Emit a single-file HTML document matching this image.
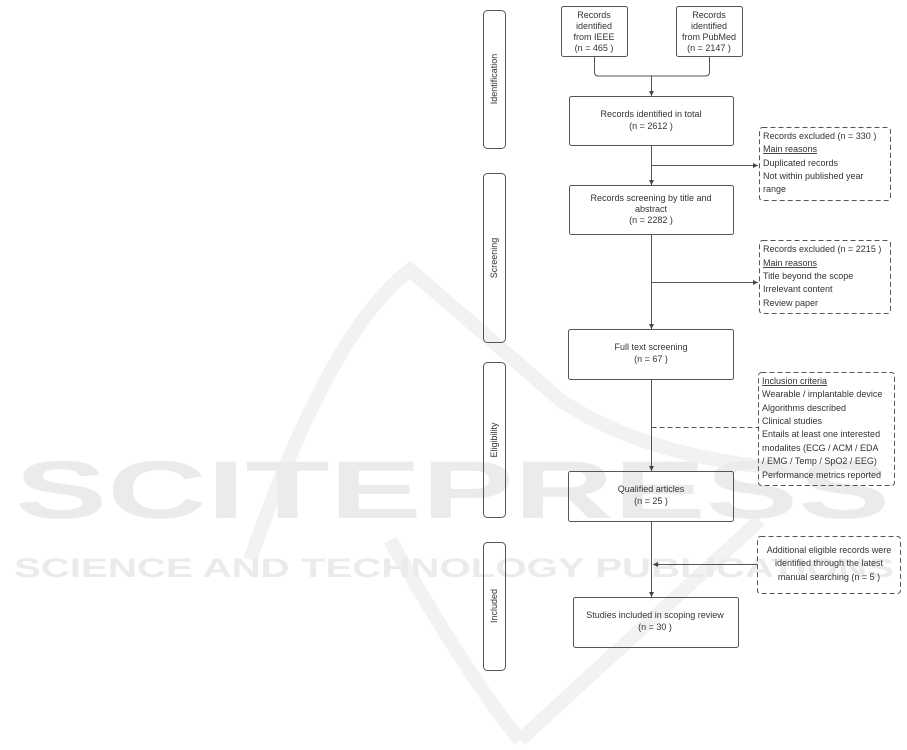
<!DOCTYPE html>
<html><head><meta charset="utf-8"><style>
html,body{margin:0;padding:0;background:#fff;width:907px;height:750px;overflow:hidden}
svg{display:block}
text{font-family:"Liberation Sans",sans-serif;fill:#333;font-size:9px}
.c{text-anchor:middle}
</style></head><body>
<svg width="907" height="750" viewBox="0 0 907 750" xmlns="http://www.w3.org/2000/svg">
<defs><marker id="a" markerWidth="6" markerHeight="6" refX="5" refY="3" orient="auto" markerUnits="userSpaceOnUse"><path d="M0,0.5 L5,3 L0,5.5z" fill="#444"/></marker></defs>
<g>
<path d="M250,560 Q330,330 410,270 Q480,330 560,400 Q650,460 800,470" fill="none" stroke="#f2f2f2" stroke-width="14"/>
<path d="M390,540 Q470,680 520,740 M520,740 L760,520" fill="none" stroke="#f2f2f2" stroke-width="14"/>
<text x="15" y="518" textLength="875" lengthAdjust="spacingAndGlyphs" style="font-size:82px;font-weight:bold;fill:#ebebeb">SCITEPRESS</text>
<text x="14" y="577" textLength="880" lengthAdjust="spacingAndGlyphs" style="font-size:27px;font-weight:bold;fill:#ebebeb">SCIENCE AND TECHNOLOGY PUBLICATIONS</text>
</g>
<g fill="none" stroke="#555" stroke-width="1">
<rect x="483.5" y="10.5" width="22" height="138" rx="4"/>
<rect x="483.5" y="173.5" width="22" height="169" rx="4"/>
<rect x="483.5" y="362.5" width="22" height="155" rx="4"/>
<rect x="483.5" y="542.5" width="22" height="128" rx="4"/>
<rect x="561.5" y="6.5" width="66" height="50" rx="2"/>
<rect x="676.5" y="6.5" width="66" height="50" rx="2"/>
<rect x="569.5" y="96.5" width="164" height="49" rx="2"/>
<rect x="569.5" y="185.5" width="164" height="49" rx="2"/>
<rect x="568.5" y="329.5" width="165" height="50" rx="2"/>
<rect x="568.5" y="471.5" width="165" height="50" rx="2"/>
<rect x="573.5" y="597.5" width="165" height="50" rx="2"/>
<g stroke-dasharray="5,3">
<rect x="759.5" y="127.5" width="131" height="73" rx="3"/>
<rect x="759.5" y="240.5" width="131" height="73" rx="3"/>
<rect x="758.5" y="372.5" width="136" height="113" rx="3"/>
<rect x="757.5" y="536.5" width="143" height="57" rx="3"/>
<path d="M651.5,427.5 H758"/>
</g>
<path d="M594.5,56 V72 Q594.5,76 598,76 H705 Q709.5,76 709.5,72 V56"/>
<path d="M651.5,76 V96" marker-end="url(#a)"/>
<path d="M651.5,145 V185" marker-end="url(#a)"/>
<path d="M651.5,165.5 H758" marker-end="url(#a)"/>
<path d="M651.5,234 V329" marker-end="url(#a)"/>
<path d="M651.5,282.5 H758" marker-end="url(#a)"/>
<path d="M651.5,379 V471" marker-end="url(#a)"/>
<path d="M651.5,521 V597" marker-end="url(#a)"/>
<path d="M757,564.5 H653" marker-end="url(#a)"/>
</g>
<text class="c" transform="translate(497,79) rotate(-90)">Identification</text>
<text class="c" transform="translate(497,258) rotate(-90)">Screening</text>
<text class="c" transform="translate(497,440) rotate(-90)">Eligibility</text>
<text class="c" transform="translate(497,606) rotate(-90)">Included</text>
<text class="c" x="594" y="18">Records</text><text class="c" x="594" y="29">identified</text><text class="c" x="594" y="40">from IEEE</text><text class="c" x="594" y="51">(n = 465 )</text>
<text class="c" x="709" y="18">Records</text><text class="c" x="709" y="29">identified</text><text class="c" x="709" y="40">from PubMed</text><text class="c" x="709" y="51">(n = 2147  )</text>
<text class="c" x="651" y="117">Records identified in total</text><text class="c" x="651" y="129">(n = 2612  )</text>
<text class="c" x="651" y="201">Records screening by title and</text><text class="c" x="651" y="212">abstract</text><text class="c" x="651" y="223">(n = 2282 )</text>
<text class="c" x="651" y="350">Full text screening</text><text class="c" x="651" y="362">(n = 67 )</text>
<text class="c" x="651" y="492">Qualified articles</text><text class="c" x="651" y="504">(n = 25 )</text>
<text class="c" x="655" y="618">Studies included in scoping review</text><text class="c" x="655" y="630">(n = 30 )</text>
<text x="763" y="139">Records excluded (n = 330 )</text>
<text x="763" y="152" text-decoration="underline">Main reasons</text>
<text x="763" y="166">Duplicated records</text>
<text x="763" y="179">Not within published year</text>
<text x="763" y="192">range</text>
<text x="763" y="252">Records excluded (n = 2215 )</text>
<text x="763" y="266" text-decoration="underline">Main reasons</text>
<text x="763" y="279">Title beyond the scope</text>
<text x="763" y="292">Irrelevant content</text>
<text x="763" y="306">Review paper</text>
<text x="762" y="384" text-decoration="underline">Inclusion criteria</text>
<text x="762" y="397">Wearable / implantable device</text>
<text x="762" y="411">Algorithms described</text>
<text x="762" y="424">Clinical studies</text>
<text x="762" y="437">Entails at least one interested</text>
<text x="762" y="451">modalites (ECG / ACM /  EDA</text>
<text x="762" y="464">/  EMG / Temp / SpO2 / EEG)</text>
<text x="762" y="478">Performance metrics reported</text>
<text class="c" x="829" y="553">Additional eligible records were</text>
<text class="c" x="829" y="566">identified through the latest</text>
<text class="c" x="829" y="580">manual searching  (n = 5 )</text>
</svg>
</body></html>
